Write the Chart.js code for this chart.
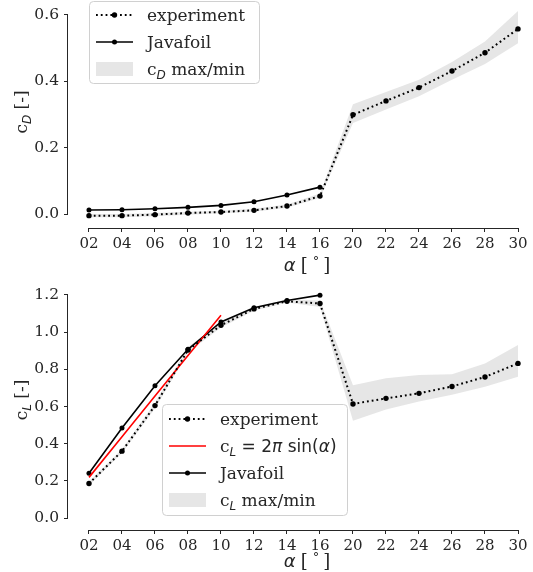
<!DOCTYPE html>
<html>
<head>
<meta charset="utf-8">
<script src="https://cdn.jsdelivr.net/npm/chart.js@4"></script>
<style>
  html, body { margin: 0; padding: 0; background: #fff; }
  canvas { position: absolute; left: 0; }
  #cdChart { top: 0; }
  #clChart { top: 286px; }
</style>
</head>
<body>
<canvas id="cdChart" width="533" height="286"></canvas>
<canvas id="clChart" width="533" height="286"></canvas>
<script>
// angle of attack categories
const alphaLabels = ['02', '04', '06', '08', '10', '12', '14', '16', '20', '22', '24', '26', '28', '30'];

// drag coefficient
const cdExp  = [-0.005, -0.005, -0.002, 0.003, 0.006, 0.011, 0.024, 0.054, 0.299, 0.341, 0.381, 0.431, 0.486, 0.558];
const cdJava = [0.012, 0.013, 0.016, 0.020, 0.026, 0.037, 0.057, 0.081];
const cdMax  = [0.000, 0.000, 0.003, 0.007, 0.010, 0.016, 0.029, 0.062, 0.331, 0.368, 0.405, 0.458, 0.520, 0.612];
const cdMin  = [-0.010, -0.010, -0.007, -0.002, 0.002, 0.007, 0.019, 0.048, 0.274, 0.315, 0.355, 0.405, 0.452, 0.515];
const cdTicks = [0, 0.2, 0.4, 0.6];

// lift coefficient
const clExp    = [0.186, 0.360, 0.605, 0.904, 1.037, 1.125, 1.166, 1.154, 0.614, 0.644, 0.671, 0.708, 0.759, 0.832];
const clJava   = [0.241, 0.485, 0.712, 0.908, 1.055, 1.131, 1.170, 1.199];
const clTheory = [0.219, 0.438, 0.657, 0.874, 1.091];
const clMax    = [0.195, 0.370, 0.620, 0.920, 1.050, 1.135, 1.175, 1.170, 0.715, 0.752, 0.770, 0.774, 0.832, 0.931];
const clMin    = [0.175, 0.350, 0.590, 0.890, 1.025, 1.115, 1.160, 1.135, 0.524, 0.584, 0.627, 0.664, 0.706, 0.760];
const clTicks = [0, 0.2, 0.4, 0.6, 0.8, 1.0, 1.2];

const INK = '#262626';
const BAND = 'rgba(128,128,128,0.2)';
const SERIF = '"DejaVu Serif", serif';
const SANS = '"DejaVu Sans", sans-serif';

const pts = arr => arr.map((v, i) => ({ x: i, y: v }));

function expSet(values) {
  return {
    label: 'experiment', data: pts(values), kind: 'line',
    borderColor: '#000', backgroundColor: '#000', borderWidth: 2, borderDash: [1.8, 3],
    pointRadius: 2.7, pointBorderWidth: 0, pointBackgroundColor: '#000', fill: false
  };
}
function javaSet(values) {
  return {
    label: 'Javafoil', data: pts(values), kind: 'line',
    borderColor: '#000', backgroundColor: '#000', borderWidth: 1.6,
    pointRadius: 2.5, pointBorderWidth: 0, pointBackgroundColor: '#000', fill: false
  };
}
function bandSets(hi, lo) {
  return [
    { label: 'max', data: pts(hi), kind: 'band', borderWidth: 0, pointRadius: 0, fill: '+1', backgroundColor: BAND },
    { label: 'min', data: pts(lo), kind: 'none', borderWidth: 0, pointRadius: 0, fill: false }
  ];
}

// draw a run of text pieces with their own fonts and offsets
function richWidth(ctx, parts) {
  let w = 0;
  parts.forEach(p => {
    if (p.gap) { w += p.gap; return; }
    ctx.font = p.f;
    w += ctx.measureText(p.t).width;
  });
  return w;
}
function drawRich(ctx, x, y, parts, align) {
  let cx = align === 'center' ? x - richWidth(ctx, parts) / 2 : x;
  ctx.textBaseline = 'alphabetic';
  ctx.textAlign = 'left';
  parts.forEach(p => {
    if (p.gap) { cx += p.gap; return; }
    ctx.font = p.f;
    ctx.fillText(p.t, cx, y + (p.dy || 0));
    cx += ctx.measureText(p.t).width;
  });
}

function drawLegend(ctx, lg) {
  ctx.save();
  ctx.beginPath();
  ctx.roundRect(lg.x + 0.5, lg.y + 0.5, lg.w, lg.h, 4);
  ctx.fillStyle = 'rgba(255,255,255,0.8)';
  ctx.fill();
  ctx.strokeStyle = '#d0d0d0';
  ctx.lineWidth = 1;
  ctx.stroke();
  lg.items.forEach((it, i) => {
    const cy = lg.y + lg.first + i * lg.step;
    const hx0 = lg.x + 7, hx1 = lg.x + 44;
    const ds = it.ds;
    if (ds.kind === 'band') {
      ctx.fillStyle = ds.backgroundColor;
      ctx.fillRect(hx0, cy - 7, hx1 - hx0, 14);
    } else {
      ctx.strokeStyle = ds.borderColor;
      ctx.lineWidth = ds.borderWidth;
      ctx.setLineDash(ds.borderDash || []);
      ctx.beginPath();
      ctx.moveTo(hx0, cy);
      ctx.lineTo(hx1, cy);
      ctx.stroke();
      ctx.setLineDash([]);
      if (ds.pointRadius) {
        ctx.fillStyle = ds.pointBackgroundColor;
        ctx.beginPath();
        ctx.arc((hx0 + hx1) / 2, cy, ds.pointRadius, 0, Math.PI * 2);
        ctx.fill();
      }
    }
    ctx.fillStyle = INK;
    drawRich(ctx, lg.x + 58, cy + 6, it.text, 'left');
  });
  ctx.restore();
}

// trimmed spines, axis titles and legend
const decorations = {
  id: 'decorations',
  afterDraw(chart, args, o) {
    const { ctx, chartArea, scales } = chart;
    const x = scales.x, y = scales.y;
    ctx.save();
    ctx.strokeStyle = INK;
    ctx.lineWidth = 1;
    ctx.beginPath();
    const lx = chartArea.left - 0.5;
    ctx.moveTo(lx, y.getPixelForValue(o.yTicks[0]));
    ctx.lineTo(lx, y.getPixelForValue(o.yTicks[o.yTicks.length - 1]));
    const by = chartArea.bottom + 0.5;
    ctx.moveTo(x.getPixelForValue(0), by);
    ctx.lineTo(x.getPixelForValue(alphaLabels.length - 1), by);
    ctx.stroke();

    ctx.fillStyle = INK;
    drawRich(ctx, 307, o.xTitleY, [
      { t: 'α', f: 'italic 18px ' + SANS },
      { gap: 5 },
      { t: '[', f: '18px ' + SERIF },
      { gap: 5 },
      { t: '°', f: '13px ' + SANS, dy: -6 },
      { gap: 4 },
      { t: ']', f: '18px ' + SERIF }
    ], 'center');

    ctx.translate(27, o.yTitleY);
    ctx.rotate(-Math.PI / 2);
    drawRich(ctx, 0, 0, [
      { t: 'c', f: '17px ' + SERIF },
      { t: o.sub, f: 'italic 12px ' + SANS, dy: 4 },
      { t: ' [-]', f: '17px ' + SERIF }
    ], 'center');
    ctx.restore();

    drawLegend(ctx, o.legend);
  }
};

function options(cfg) {
  return {
    responsive: false,
    animation: false,
    layout: { padding: { top: cfg.top, right: 5, left: 0, bottom: 0 } },
    plugins: {
      legend: { display: false },
      tooltip: { enabled: false },
      decorations: cfg.deco
    },
    scales: {
      x: {
        type: 'linear', min: -0.636, max: 13.303,
        afterBuildTicks: s => { s.ticks = alphaLabels.map((_, i) => ({ value: i })); },
        afterFit: s => { s.height = cfg.xHeight; s.paddingLeft = 0; s.paddingRight = 0; },
        ticks: {
          callback: v => alphaLabels[v], autoSkip: false, maxRotation: 0,
          color: INK, padding: 3, font: { family: SERIF, size: 15 }
        },
        grid: { drawOnChartArea: false, tickLength: 4, color: INK, lineWidth: 1 },
        border: { display: false }
      },
      y: {
        type: 'linear', min: cfg.yMin, max: cfg.yMax,
        afterBuildTicks: s => { s.ticks = cfg.yTicks.map(v => ({ value: v })); },
        afterFit: s => { s.width = 68; s.paddingTop = 0; s.paddingBottom = 0; },
        ticks: {
          callback: v => v.toFixed(1), color: INK, padding: 5,
          font: { family: SERIF, size: 15.5 }
        },
        grid: { drawOnChartArea: false, tickLength: 4, color: INK, lineWidth: 1 },
        border: { display: false }
      }
    }
  };
}

// drag panel
const cdExpSet = expSet(cdExp);
const cdJavaSet = javaSet(cdJava);
const cdBand = bandSets(cdMax, cdMin);
new Chart(document.getElementById('cdChart'), {
  type: 'line',
  data: { datasets: [cdExpSet, cdJavaSet, ...cdBand] },
  options: options({
    top: 8, xHeight: 58, yMin: -0.0422, yMax: 0.621, yTicks: cdTicks,
    deco: {
      yTicks: cdTicks, sub: 'D', xTitleY: 271, yTitleY: 112,
      legend: {
        x: 89, y: 1, w: 170, h: 82, first: 14, step: 27,
        items: [
          { ds: cdExpSet, text: [{ t: 'experiment', f: '17px ' + SERIF }] },
          { ds: cdJavaSet, text: [{ t: 'Javafoil', f: '17px ' + SERIF }] },
          { ds: cdBand[0], text: [
            { t: 'c', f: '17px ' + SERIF },
            { t: 'D', f: 'italic 12px ' + SANS, dy: 4 },
            { t: ' max/min', f: '17px ' + SERIF }
          ] }
        ]
      }
    }
  }),
  plugins: [decorations]
});

// lift panel
const clExpSet = expSet(clExp);
const clJavaSet = javaSet(clJava);
const clTheorySet = {
  label: 'theory', data: pts(clTheory), kind: 'line',
  borderColor: '#ff0000', borderWidth: 1.6, pointRadius: 0, fill: false
};
const clBand = bandSets(clMax, clMin);
new Chart(document.getElementById('clChart'), {
  type: 'line',
  data: { datasets: [clExpSet, clTheorySet, clJavaSet, ...clBand] },
  options: options({
    top: 2, xHeight: 42, yMin: -0.064, yMax: 1.2267, yTicks: clTicks,
    deco: {
      yTicks: clTicks, sub: 'L', xTitleY: 281, yTitleY: 114,
      legend: {
        x: 162, y: 118, w: 185, h: 111, first: 15, step: 27,
        items: [
          { ds: clExpSet, text: [{ t: 'experiment', f: '17px ' + SERIF }] },
          { ds: clTheorySet, text: [
            { t: 'c', f: '17px ' + SERIF },
            { t: 'L', f: 'italic 12px ' + SANS, dy: 4 },
            { t: ' = 2', f: '17px ' + SANS },
            { t: 'π', f: 'italic 17px ' + SANS },
            { t: ' sin(', f: '17px ' + SANS },
            { t: 'α', f: 'italic 17px ' + SANS },
            { t: ')', f: '17px ' + SANS }
          ] },
          { ds: clJavaSet, text: [{ t: 'Javafoil', f: '17px ' + SERIF }] },
          { ds: clBand[0], text: [
            { t: 'c', f: '17px ' + SERIF },
            { t: 'L', f: 'italic 12px ' + SANS, dy: 4 },
            { t: ' max/min', f: '17px ' + SERIF }
          ] }
        ]
      }
    }
  }),
  plugins: [decorations]
});
</script>
</body>
</html>
